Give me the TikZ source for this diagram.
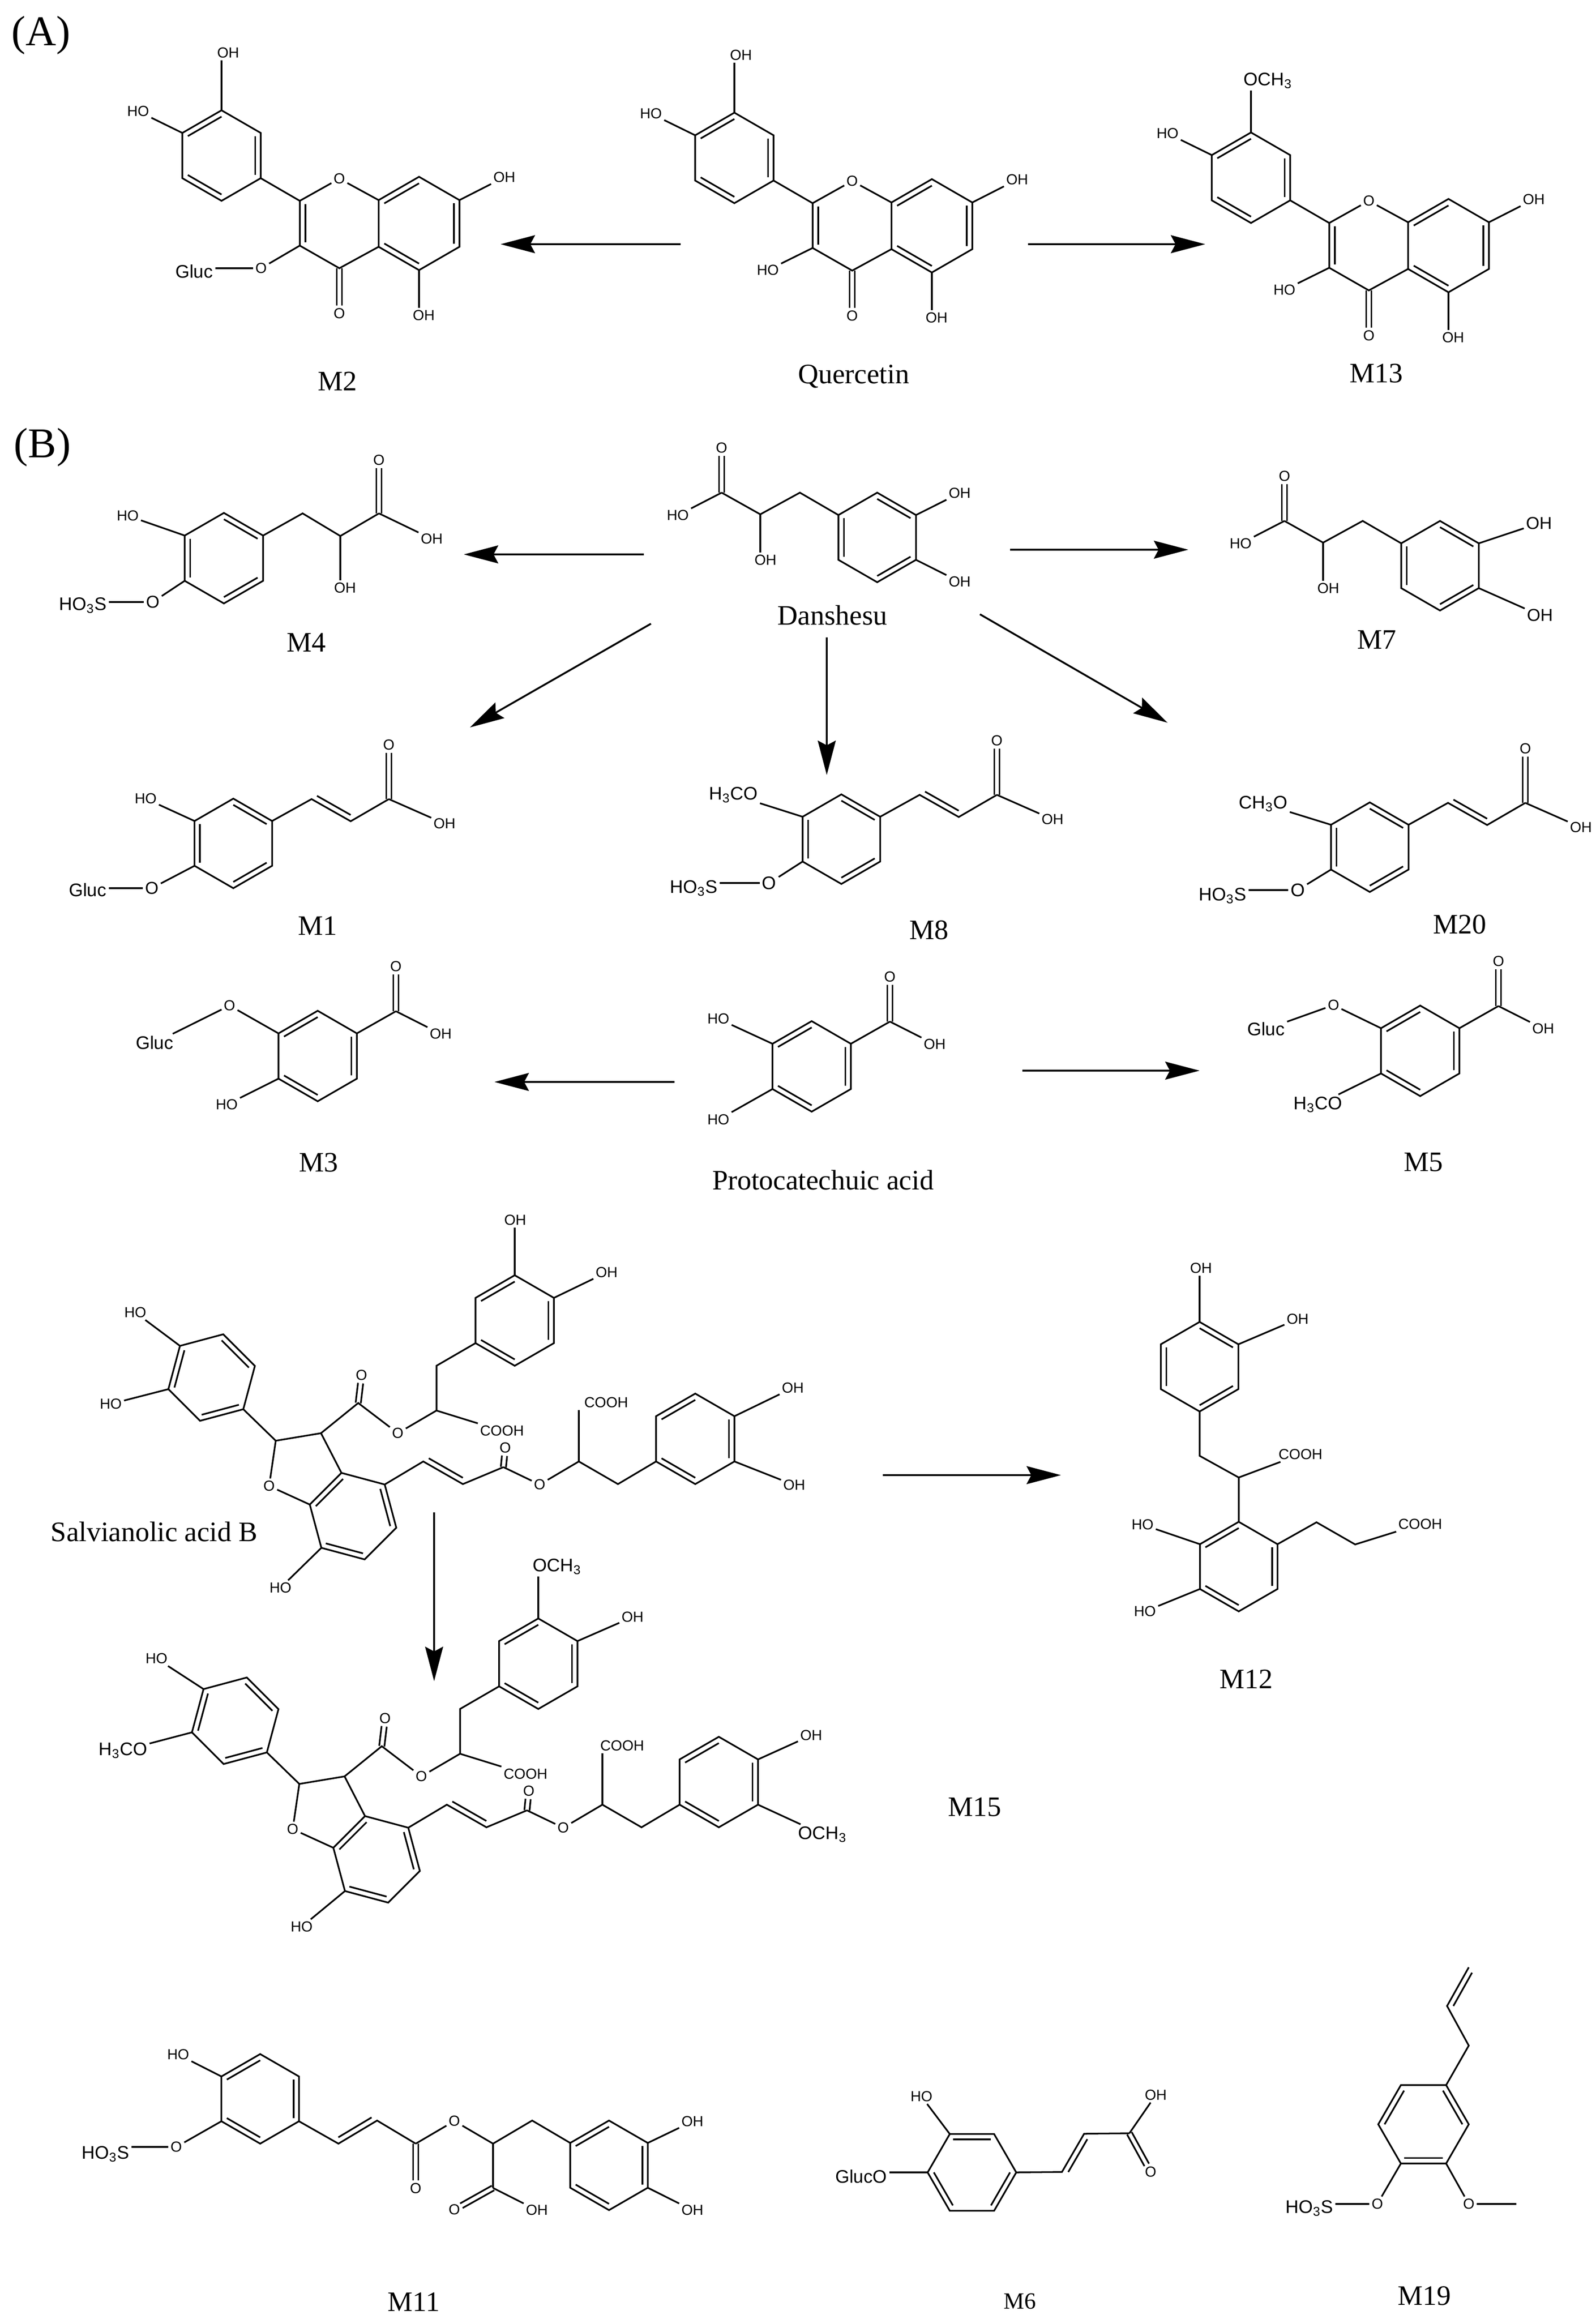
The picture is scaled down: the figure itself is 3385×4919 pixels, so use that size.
\documentclass[tikz,border=0pt]{standalone}
\usepackage{fontspec}
\setmainfont{Liberation Serif}
\newfontfamily\chemfont{Liberation Sans}
\usetikzlibrary{calc,arrows.meta}
\tikzset{
  bond/.style={draw=black, line width=1pt, line join=miter},
  arr/.style={draw=black, line width=1.1pt, -{Stealth[length=0.73cm,width=0.38cm,inset=0.1cm]}},
  lab/.style={font=\chemfont\fontsize{8.8}{10}\selectfont, inner sep=1.2pt},
  labm/.style={font=\chemfont\fontsize{10.4}{12}\selectfont, inner sep=1.2pt},
  labl/.style={font=\chemfont\fontsize{11}{13}\selectfont, inner sep=1.2pt},
  tag/.style={font=\fontsize{17}{19}\selectfont, inner sep=0pt},
  panel/.style={font=\fontsize{25.6}{28}\selectfont, inner sep=0pt},
}
% ring: [turn]{name}{cx}{cy}{radius}, corners run clockwise from the top
\newcommand{\hexa}[5][0]{
  \coordinate (#2c) at (#3,#4);
  \foreach \k/\a in {1/-90,2/-30,3/30,4/90,5/150,6/210}
    \coordinate (#2\k) at ($(#2c)+({\a+#1}:#5)$);
  \draw[bond] (#21) -- (#22) -- (#23) -- (#24) -- (#25) -- (#26) -- cycle;
}
% inner line of a double bond, pulled towards a third point
\newcommand{\dbl}[3]{\draw[bond] ($(#1)!0.14!(#3)$) -- ($(#2)!0.14!(#3)$);}
% same for a chain, side given by an angle
\newcommand{\dbs}[3]{
  \coordinate (apex) at ($(#1)!0.5!(#2)!0.83cm!#3:(#2)$);
  \dbl{#1}{#2}{apex}
}
% the three inner lines of a ring
\newcommand{\ringA}[1]{\dbl{#11}{#12}{#1c} \dbl{#13}{#14}{#1c} \dbl{#15}{#16}{#1c}}
\newcommand{\ringB}[1]{\dbl{#16}{#11}{#1c} \dbl{#12}{#13}{#1c} \dbl{#14}{#15}{#1c}}
% C=O from an atom to a label
\newcommand{\dbo}[2]{
  \draw[bond, shorten >=0.17cm] ($(#1)!0.055cm!90:(#2)$) -- ($(#2)!0.055cm!-90:(#1)$);
  \draw[bond, shorten >=0.17cm] ($(#1)!0.055cm!-90:(#2)$) -- ($(#2)!0.055cm!90:(#1)$);
}
% flavonol skeleton
\newcommand{\flavone}[1]{
  \hexa{#1b}{470}{330}{96}
  \hexa{#1a}{889}{474}{99}
  \coordinate (#1cc) at (720,474);
  \node[lab] (#1oa) at (720,379) {O};
  \node[lab] (#1ob) at (720,665) {O};
  \node[lab] (#1oc) at (1070,376) {OH};
  \node[lab] (#1od) at (899,669) {OH};
  \node[lab] (#1oe) at (293,236) {HO};
  \draw[bond] (#1b3) -- (636,426) coordinate (#1p) -- (636,521) coordinate (#1q) -- (720,569) coordinate (#1r) -- (#1a5);
  \draw[bond] (#1p) -- (#1oa);
  \draw[bond] (#1oa) -- (#1a6);
  \dbl{#1p}{#1q}{#1cc}
  \dbo{#1r}{#1ob}
  \ringB{#1b}
  \ringB{#1a}
  \draw[bond] (#1a2) -- (#1oc);
  \draw[bond] (#1a4) -- (#1a4 |- #1od.north);
  \draw[bond] (#1b6) -- (#1oe);
}
% caffeoyl skeleton
\newcommand{\caffeoyl}[1]{
  \hexa{#1r}{495}{1789}{95}
  \ringA{#1r}
  \node[lab] (#1co) at (825,1580) {O};
  \node[lab] (#1oh) at (943,1747) {OH};
  \draw[bond] (#1r2) -- (661,1695) coordinate (#1p) -- (744,1742) coordinate (#1q) -- (825,1695) coordinate (#1c);
  \dbs{#1p}{#1q}{90}
  \dbo{#1c}{#1co}
  \draw[bond] (#1c) -- (#1oh);
}
% benzoic acid skeleton
\newcommand{\benzoic}[1]{
  \hexa{#1r}{674}{2240}{96}
  \ringB{#1r}
  \node[lab] (#1co) at (840,2050) {O};
  \node[lab] (#1oh) at (935,2193) {OH};
  \draw[bond] (#1r2) -- (840,2145) coordinate (#1c);
  \dbo{#1c}{#1co}
  \draw[bond] (#1c) -- (#1oh);
}
% lactic acid skeleton
\newcommand{\lactic}[1]{
  \hexa{#1r}{1861}{1140}{95}
  \ringA{#1r}
  \node[lab] (#1o) at (1531,950) {O};
  \node[lab] (#1oa) at (1438,1093) {HO};
  \node[lab] (#1ob) at (1624,1188) {OH};
  \draw[bond] (#1r6) -- (1697,1045) -- (1613,1091) coordinate (#1h) -- (1531,1045) coordinate (#1c);
  \dbo{#1c}{#1o}
  \draw[bond] (#1c) -- (#1oa);
  \draw[bond] (#1h) -- (#1h |- #1ob.north);
}
% salvianolic skeleton
\newcommand{\salvia}[1]{
  \hexa{#1t}{1092}{2801}{96}
  \hexa[15]{#1l}{449}{2922}{95}
  \hexa[-15]{#1a}{749}{3216}{95}
  \hexa{#1r}{1475}{3052}{96}
  \ringB{#1t} \ringA{#1l} \ringB{#1a} \ringB{#1r}
  \node[lab] (#1oa) at (767,2917) {O};
  \node[lab] (#1ob) at (844,3040) {O};
  \node[lab] (#1oc) at (571,3152) {O};
  \node[lab] (#1od) at (1072,3071) {O};
  \node[lab] (#1oe) at (1145,3149) {O};
  \node[lab] (#1cooh) at (1065,3035) {COOH};
  \draw[bond] (#1t5) -- (926,2897) -- (926,2992) coordinate (#1n);
  \draw[bond] (#1n) -- (#1cooh);
  \draw[bond] (#1n) -- (#1ob);
  \draw[bond] (#1ob) -- (760,2976) coordinate (#1c) -- (681,3040) coordinate (#1u) -- (585,3056) coordinate (#1v) -- (#1l3);
  \dbo{#1c}{#1oa}
  \draw[bond] (#1u) -- (#1a1);
  \draw[bond] (#1v) -- (#1oc);
  \draw[bond] (#1oc) -- (#1a6);
  \draw[bond] (#1a2) -- (898,3100) coordinate (#1p) -- (982,3148) coordinate (#1q) -- (1068,3112) coordinate (#1w);
  \dbs{#1p}{#1q}{90}
  \dbo{#1w}{#1od}
  \draw[bond] (#1w) -- (#1oe);
  \draw[bond] (#1oe) -- (1228,3100) coordinate (#1x) -- (1311,3148) -- (#1r5);
}
\begin{document}
\begin{tikzpicture}[x=0.01cm,y=-0.01cm]
  \path[use as bounding box] (0,0) rectangle (3385,4919);

  % panel A
  \node[panel] (pa) at (87,75) {(A)};
  \begin{scope}
    \flavone{mb}
    \node[lab] (mboh) at (484,112) {OH};
    \draw[bond] (mbb1) -- (mbb1 |- mboh.south);
    \node[lab] (mbog) at (554,569) {O};
    \node[labl] (mbgl) at (412,576) {Gluc};
    \draw[bond] (mbq) -- (mbog);
    \draw[bond] (mbgl.east |- mbog) -- (mbog);
  \end{scope}
  \begin{scope}[shift={(1088,5)}]
    \flavone{qu}
    \node[lab] (quoh) at (484,112) {OH};
    \draw[bond] (qub1) -- (qub1 |- quoh.south);
    \node[lab] (quho) at (541,568) {HO};
    \draw[bond] (quq) -- (quho);
  \end{scope}
  \begin{scope}[shift={(2184,47)}]
    \flavone{mm}
    \node[labl] (mmoc) at (506,124) {OCH\textsubscript{3}};
    \draw[bond] (mmb1) -- (mmb1 |- mmoc.south);
    \node[lab] (mmho) at (541,568) {HO};
    \draw[bond] (mmq) -- (mmho);
  \end{scope}
  \node[tag] (lmb) at (716,809) {M2};
  \node[tag] (lqu) at (1811,799) {Quercetin};
  \node[tag] (lmm) at (2920,792) {M13};
  \coordinate (qa) at (1444,518); \coordinate (qb) at (1062,518);
  \coordinate (qc) at (2181,518); \coordinate (qd) at (2557,518);
  \draw[arr] (qa) -- (qb);
  \draw[arr] (qc) -- (qd);

  % panel B, danshensu row
  \node[panel] (pb) at (90,949) {(B)};
  \lactic{ds}
  \node[lab] (dsa) at (2036,1046) {OH};
  \node[lab] (dsb) at (2036,1234) {OH};
  \draw[bond] (dsr2) -- (dsa);
  \draw[bond] (dsr3) -- (dsb);
  \node[tag] (lds) at (1766,1305) {Danshesu};
  \begin{scope}[shift={(1194,60)}]
    \lactic{ms}
    \node[labm] (msa) at (2071,1050) {OH};
    \node[labm] (msb) at (2073,1245) {OH};
    \draw[bond] (msr2) -- (msa);
    \draw[bond] (msr3) -- (msb);
  \end{scope}
  \node[tag] (lms) at (2921,1357) {M7};

  % M4
  \hexa{mf}{475}{1184}{96}
  \ringA{mf}
  \node[lab] (mfo) at (804,976) {O};
  \node[lab] (mfa) at (916,1143) {OH};
  \node[lab] (mfb) at (732,1247) {OH};
  \node[lab] (mfh) at (271,1094) {HO};
  \node[labm] (mfs) at (324,1277) {O};
  \node[labl] (mft) at (176,1284) {HO\textsubscript{3}S};
  \draw[bond] (mf2) -- (642,1089) -- (722,1137) coordinate (mfn) -- (804,1089) coordinate (mfc);
  \dbo{mfc}{mfo}
  \draw[bond] (mfc) -- (mfa);
  \draw[bond] (mfn) -- (mfn |- mfb.north);
  \draw[bond] (mf6) -- (mfh);
  \draw[bond] (mf5) -- (mfs);
  \draw[bond] (mft.east |- mfs) -- (mfs);
  \node[tag] (lmf) at (650,1363) {M4};
  \coordinate (da) at (1366,1176); \coordinate (db) at (984,1176);
  \coordinate (dc) at (2143,1166); \coordinate (dd) at (2521,1166);
  \coordinate (de) at (1381,1323); \coordinate (df) at (997,1543);
  \coordinate (dg) at (1754,1352); \coordinate (dh) at (1754,1644);
  \coordinate (di) at (2079,1303); \coordinate (dj) at (2477,1533);
  \draw[arr] (da) -- (db);
  \draw[arr] (dc) -- (dd);
  \draw[arr] (de) -- (df);
  \draw[arr] (dg) -- (dh);
  \draw[arr] (di) -- (dj);

  % caffeic row
  \caffeoyl{ma}
  \node[lab] (mah) at (309,1694) {HO};
  \node[labm] (mao) at (322,1884) {O};
  \node[labl] (mag) at (186,1888) {Gluc};
  \draw[bond] (mar6) -- (mah);
  \draw[bond] (mar5) -- (mao);
  \draw[bond] (mag.east |- mao) -- (mao);
  \node[tag] (lma) at (674,1964) {M1};
  \begin{scope}[shift={(1290,-9)}]
    \caffeoyl{me}
  \end{scope}
  \node[labl] (meh) at (1556,1686) {H\textsubscript{3}CO};
  \node[labl] (meo) at (1632,1873) {O};
  \node[labl] (mes) at (1472,1884) {HO\textsubscript{3}S};
  \draw[bond] (mer6) -- (meh);
  \draw[bond] (mer5) -- (meo);
  \draw[bond] (mes.east |- meo) -- (meo);
  \node[tag] (lme) at (1971,1973) {M8};
  \begin{scope}[shift={(2411,8)}]
    \caffeoyl{mt}
  \end{scope}
  \node[labl] (mth) at (2680,1705) {CH\textsubscript{3}O};
  \node[labl] (mto) at (2753,1888) {O};
  \node[labl] (mts) at (2594,1900) {HO\textsubscript{3}S};
  \draw[bond] (mtr6) -- (mth);
  \draw[bond] (mtr5) -- (mto);
  \draw[bond] (mts.east |- mto) -- (mto);
  \node[tag] (lmt) at (3097,1961) {M20};

  % protocatechuic row
  \benzoic{mc}
  \node[lab] (mco) at (487,2133) {O};
  \node[labl] (mcg) at (328,2212) {Gluc};
  \node[lab] (mch) at (481,2343) {HO};
  \draw[bond] (mcr6) -- (mco);
  \draw[bond] (mco) -- (mcg);
  \draw[bond] (mcr5) -- (mch);
  \node[tag] (lmc) at (676,2466) {M3};
  \begin{scope}[shift={(1048,22)}]
    \benzoic{pc}
  \end{scope}
  \node[lab] (pca) at (1524,2161) {HO};
  \node[lab] (pcb) at (1524,2375) {HO};
  \draw[bond] (pcr6) -- (pca);
  \draw[bond] (pcr5) -- (pcb);
  \node[tag] (lpc) at (1746,2503) {Protocatechuic acid};
  \begin{scope}[shift={(2339,-11)}]
    \benzoic{mv}
  \end{scope}
  \node[lab] (mvo) at (2829,2132) {O};
  \node[labl] (mvg) at (2686,2183) {Gluc};
  \node[labl] (mvh) at (2796,2343) {H\textsubscript{3}CO};
  \draw[bond] (mvr6) -- (mvo);
  \draw[bond] (mvo) -- (mvg);
  \draw[bond] (mvr5) -- (mvh);
  \node[tag] (lmv) at (3020,2465) {M5};
  \coordinate (pa1) at (1431,2295); \coordinate (pa2) at (1049,2295);
  \coordinate (pa3) at (2169,2271); \coordinate (pa4) at (2545,2271);
  \draw[arr] (pa1) -- (pa2);
  \draw[arr] (pa3) -- (pa4);

  % salvianolic acid B
  \salvia{sa}
  \node[lab] (saa) at (1093,2588) {OH};
  \node[lab] (sab) at (1287,2699) {OH};
  \node[lab] (sad) at (287,2784) {HO};
  \node[lab] (sae) at (235,2978) {HO};
  \node[lab] (saf) at (595,3368) {HO};
  \node[lab] (sag) at (1682,2944) {OH};
  \node[lab] (sah) at (1685,3150) {OH};
  \node[lab] (saj) at (1286,2975) {COOH};
  \draw[bond] (sat1) -- (sat1 |- saa.south);
  \draw[bond] (sat2) -- (sab);
  \draw[bond] (sal6) -- (sad);
  \draw[bond] (sal5) -- (sae);
  \draw[bond] (saa5) -- (saf);
  \draw[bond] (sar2) -- (sag);
  \draw[bond] (sar3) -- (sah);
  \draw[bond] (sax) -- (sax |- saj.south);
  \node[tag] (lsa) at (327,3249) {Salvianolic acid B};
  \coordinate (sb1) at (921,3208); \coordinate (sb2) at (921,3566);
  \coordinate (sb3) at (1873,3129); \coordinate (sb4) at (2251,3129);
  \draw[arr] (sb1) -- (sb2);
  \draw[arr] (sb3) -- (sb4);

  % M15
  \begin{scope}[shift={(50,728)}]
    \salvia{mo}
  \end{scope}
  \node[labl] (moa) at (1182,3323) {OCH\textsubscript{3}};
  \node[lab] (mob) at (1342,3430) {OH};
  \node[lab] (moh) at (332,3518) {HO};
  \node[labl] (mod) at (261,3713) {H\textsubscript{3}CO};
  \node[lab] (moe) at (640,4087) {HO};
  \node[lab] (mof) at (1721,3681) {OH};
  \node[labl] (mog) at (1745,3891) {OCH\textsubscript{3}};
  \node[lab] (mok) at (1320,3703) {COOH};
  \draw[bond] (mot1) -- (mot1 |- moa.south);
  \draw[bond] (mot2) -- (mob);
  \draw[bond] (mol6) -- (moh);
  \draw[bond] (mol5) -- (mod);
  \draw[bond] (moa5) -- (moe);
  \draw[bond] (mor2) -- (mof);
  \draw[bond] (mor3) -- (mog);
  \draw[bond] (mox) -- (mox |- mok.south);
  \node[tag] (lmo) at (2068,3833) {M15};

  % M12
  \hexa{mlt}{2545}{2899}{95}
  \hexa{mlb}{2628}{3323}{95}
  \ringA{mlt}
  \ringB{mlb}
  \node[lab] (mla) at (2548,2690) {OH};
  \node[lab] (mlc) at (2753,2798) {OH};
  \node[lab] (mld) at (2759,3085) {COOH};
  \node[lab] (mle) at (2424,3234) {HO};
  \node[lab] (mlf) at (2429,3418) {HO};
  \node[lab] (mlg) at (3013,3233) {COOH};
  \draw[bond] (mlt1) -- (mlt1 |- mla.south);
  \draw[bond] (mlt2) -- (mlc);
  \draw[bond] (mlt4) -- (2545,3088) -- (2628,3134) coordinate (mlh) -- (mlb1);
  \draw[bond] (mlh) -- (mld);
  \draw[bond] (mlb6) -- (mle);
  \draw[bond] (mlb5) -- (mlf);
  \draw[bond] (mlb2) -- (2793,3229) -- (2875,3276) -- (mlg);
  \node[tag] (lml) at (2644,3562) {M12};

  % M11
  \hexa{mnl}{552}{4452}{95}
  \hexa{mnr}{1292}{4593}{95}
  \ringB{mnl}
  \ringB{mnr}
  \node[lab] (mna) at (378,4358) {HO};
  \node[lab] (mnb) at (374,4554) {O};
  \node[labl] (mnc) at (224,4569) {HO\textsubscript{3}S};
  \node[lab] (mnd) at (882,4642) {O};
  \node[lab] (mne) at (964,4499) {O};
  \node[lab] (mnf) at (964,4687) {O};
  \node[lab] (mng) at (1139,4688) {OH};
  \node[lab] (mnh) at (1469,4500) {OH};
  \node[lab] (mnj) at (1469,4688) {OH};
  \draw[bond] (mnl6) -- (mna);
  \draw[bond] (mnl5) -- (mnb);
  \draw[bond] (mnc.east |- mnb) -- (mnb);
  \draw[bond] (mnl3) -- (718,4547) coordinate (mnp) -- (800,4498) coordinate (mnq) -- (882,4547) coordinate (mnk);
  \dbs{mnp}{mnq}{90}
  \dbo{mnk}{mnd}
  \draw[bond] (mnk) -- (mne);
  \draw[bond] (mne) -- (1046,4547) coordinate (mnm) -- (1129,4498) -- (mnr6);
  \draw[bond] (mnm) -- (1046,4641) coordinate (mnn);
  \dbo{mnn}{mnf}
  \draw[bond] (mnn) -- (mng);
  \draw[bond] (mnr2) -- (mnh);
  \draw[bond] (mnr3) -- (mnj);
  \node[tag] (lmn) at (878,4883) {M11};

  % M6
  \hexa[30]{mx}{2062}{4608}{94}
  \ringB{mx}
  \node[lab] (mxh) at (1955,4447) {HO};
  \node[labl] (mxg) at (1827,4617) {GlucO};
  \node[lab] (mxo) at (2452,4444) {OH};
  \node[lab] (mxd) at (2441,4607) {O};
  \draw[bond] (mx6) -- (mxh);
  \draw[bond] (mx5) -- (mxg.east |- mx5);
  \draw[bond] (mx2) -- (2253,4607) coordinate (mxp) -- (2300,4526) coordinate (mxq) -- (2396,4525) coordinate (mxa);
  \dbs{mxp}{mxq}{-90}
  \draw[bond] (mxa) -- (mxo);
  \dbo{mxa}{mxd}
  \node[tag, font=\fontsize{14}{16}\selectfont] (lmx) at (2164,4881) {M6};

  % M19
  \hexa[30]{mj}{3020}{4506}{96}
  \ringA{mj}
  \node[lab] (mja) at (2922,4675) {O};
  \node[labl] (mjb) at (2778,4684) {HO\textsubscript{3}S};
  \node[lab] (mjc) at (3116,4675) {O};
  \coordinate (mjd) at (3217,4675);
  \draw[bond] (mj4) -- (mja);
  \draw[bond] (mjb.east |- mja) -- (mja);
  \draw[bond] (mj3) -- (mjc);
  \draw[bond] (mjc) -- (mjd);
  \draw[bond] (mj1) -- (3116,4339) -- (3070,4255) coordinate (mjq) -- (3116,4173) coordinate (mjr);
  \dbs{mjq}{mjr}{-90}
  \node[tag] (lmj) at (3022,4870) {M19};
\end{tikzpicture}
\end{document}
